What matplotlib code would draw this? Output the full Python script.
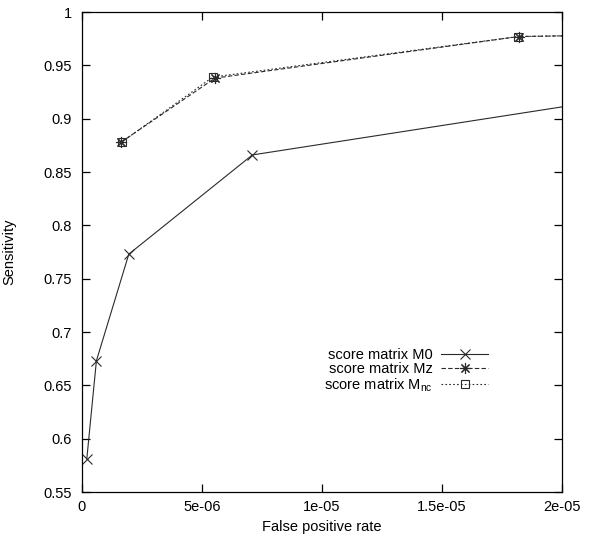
import matplotlib
matplotlib.use('Agg')
import matplotlib.pyplot as plt

plt.rcParams['font.family'] = ['Liberation Sans', 'DejaVu Sans']
plt.rcParams['mathtext.fontset'] = 'custom'
plt.rcParams['mathtext.rm'] = 'Liberation Sans'

# data
fpr_m0 = [0.2e-6, 0.6e-6, 1.95e-6, 7.1e-6, 2.4e-5]
sens_m0 = [0.581, 0.673, 0.773, 0.866, 0.925]

fpr_mz = [1.63e-6, 5.54e-6, 18.2e-6, 2.4e-5]
sens_mz = [0.878, 0.938, 0.977, 0.979]

fpr_mnc = [1.65e-6, 5.45e-6, 18.18e-6, 2.4e-5]
sens_mnc = [0.878, 0.939, 0.977, 0.979]

xticks = [0, 5e-6, 1e-5, 1.5e-5, 2e-5]
xticklabels = ['0', '5e-06', '1e-05', '1.5e-05', '2e-05']
yticks = [0.55, 0.6, 0.65, 0.7, 0.75, 0.8, 0.85, 0.9, 0.95, 1.0]
yticklabels = ['0.55', '0.6', '0.65', '0.7', '0.75', '0.8', '0.85', '0.9', '0.95', '1']

fig = plt.figure(figsize=(6, 5.37), dpi=100)
ax = fig.add_axes([82/600, 1 - 492/537, 480/600, 480/537])

lc = '#2a2a2a'
ax.plot(fpr_m0, sens_m0, color=lc, lw=0.8, marker='x', ms=7, mew=0.8,
        label='score matrix M0')
ax.plot(fpr_mz, sens_mz, color=lc, lw=0.8, dashes=(4, 2), marker=(8, 2, 0),
        ms=8, mew=0.8, label='score matrix Mz')
ax.plot(fpr_mnc, sens_mnc, color=lc, lw=0.8, dashes=(1.5, 2), marker='s',
        ms=6, mew=0.8, mfc='none', label=r'score matrix M$_\mathregular{nc}$')

ax.set_xlim(0, 2e-5)
ax.set_ylim(0.55, 1.0)
ax.set_xticks(xticks)
ax.set_xticklabels(xticklabels)
ax.set_yticks(yticks)
ax.set_yticklabels(yticklabels)
ax.tick_params(direction='in', length=6, width=0.9, top=True, right=True,
               labelsize=10.5)
ax.tick_params(axis='y', pad=7.5)
ax.tick_params(axis='x', pad=6)
for s in ax.spines.values():
    s.set_linewidth(0.9)

ax.set_xlabel('False positive rate', fontsize=10.5, labelpad=4)
ax.set_ylabel('Sensitivity', fontsize=10.5, labelpad=19)

ax.legend(loc='upper right', bbox_to_anchor=(488/600, (537 - 348)/537),
          bbox_transform=fig.transFigure, frameon=False, markerfirst=False,
          handlelength=3.2, handletextpad=0.6, labelspacing=0.0,
          borderpad=0, borderaxespad=0, fontsize=10.5)

fig.savefig('out.png', dpi=100)
